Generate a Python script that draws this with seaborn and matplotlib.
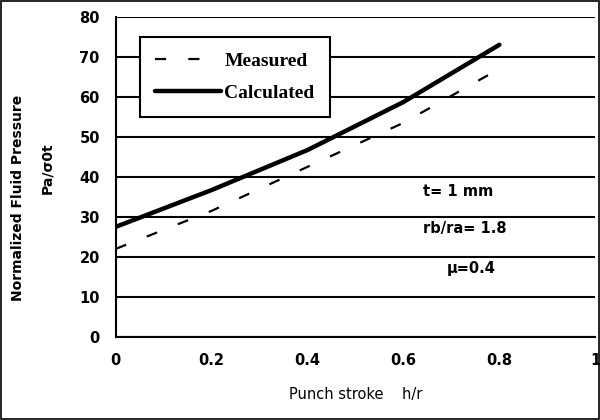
import matplotlib
matplotlib.use("Agg")
import matplotlib.pyplot as plt
import seaborn as sns
import pandas as pd
from matplotlib.patches import Rectangle

stroke = [0.0, 0.2, 0.4, 0.6, 0.8]
measured = [22.0, 31.5, 42.5, 53.5, 67.0]
calculated = [27.5, 36.7, 46.7, 58.7, 73.0]
xticks = [0, 0.2, 0.4, 0.6, 0.8, 1]
xticklabels = ["0", "0.2", "0.4", "0.6", "0.8", "1"]
yticks = [0, 10, 20, 30, 40, 50, 60, 70, 80]

sns.set_theme(style="white")
plt.rcParams['font.family'] = ['DejaVu Sans']
plt.rcParams['text.color'] = 'black'
plt.rcParams['axes.labelcolor'] = 'black'

df = pd.DataFrame({
    "x": stroke * 2,
    "y": measured + calculated,
    "series": ["Measured"] * len(stroke) + ["Calculated"] * len(stroke),
})

fig = plt.figure(figsize=(6, 4.2), dpi=100)
ax = fig.add_axes([0.193, 0.198, 0.799, 0.762])

for yv in yticks:
    ax.axhline(yv, color="black", lw=1.5, zorder=1)

sns.lineplot(data=df[df.series == "Measured"], x="x", y="y", ax=ax,
             color="black", lw=1.6, label="Measured", dashes=False)
sns.lineplot(data=df[df.series == "Calculated"], x="x", y="y", ax=ax,
             color="black", lw=3.2, label="Calculated", dashes=False)
ax.lines[-2].set_dashes((5, 10))

ax.set_xlim(0, 1)
ax.set_ylim(0, 80)
ax.set_xticks(xticks)
ax.set_xticklabels(xticklabels)
ax.set_yticks(yticks)
for s in ["top", "right"]:
    ax.spines[s].set_visible(False)
for s in ["left", "bottom"]:
    ax.spines[s].set_color("black")
    ax.spines[s].set_linewidth(1.5)
ax.tick_params(axis="both", direction="inout", length=7, width=1.3,
               colors="black", labelsize=10.5, pad=8)
for lab in ax.get_xticklabels() + ax.get_yticklabels():
    lab.set_fontweight("bold")

ax.set_xlabel("Punch stroke    h/r", fontsize=10.5, labelpad=14, color="black")
ax.set_ylabel("")
fig.text(0.03, 0.53, "Normalized Fluid Pressure", rotation=90,
         ha="center", va="center", fontsize=10, fontweight="bold", color="black")
fig.text(0.078, 0.6, "Pa/σ0t", rotation=90, ha="center", va="center",
         fontsize=10, fontweight="bold", color="black")

ax.text(0.64, 0.455, "t= 1 mm", transform=ax.transAxes, fontsize=10.5,
        fontweight="bold", va="center", color="black")
ax.text(0.64, 0.34, "rb/ra= 1.8", transform=ax.transAxes, fontsize=10.5,
        fontweight="bold", va="center", color="black")
ax.text(0.69, 0.215, "μ=0.4", transform=ax.transAxes, fontsize=10.5,
        fontweight="bold", va="center", color="black")

leg = ax.legend(loc="upper left", bbox_to_anchor=(0.05, 0.9375),
                handlelength=3.4, handletextpad=0.15, borderpad=0.8,
                labelspacing=0.72, borderaxespad=0, frameon=True, fancybox=False,
                prop={"family": "Liberation Serif", "weight": "bold", "size": 14})
leg.get_frame().set_edgecolor("black")
leg.get_frame().set_linewidth(1.5)
leg.get_frame().set_alpha(1)
for t in leg.get_texts():
    t.set_color("black")

fig.patches.append(Rectangle((0.002, 0.002), 0.996, 0.995,
                             transform=fig.transFigure, fill=False,
                             edgecolor="black", lw=1.2))

fig.savefig("out.png", dpi=100)
